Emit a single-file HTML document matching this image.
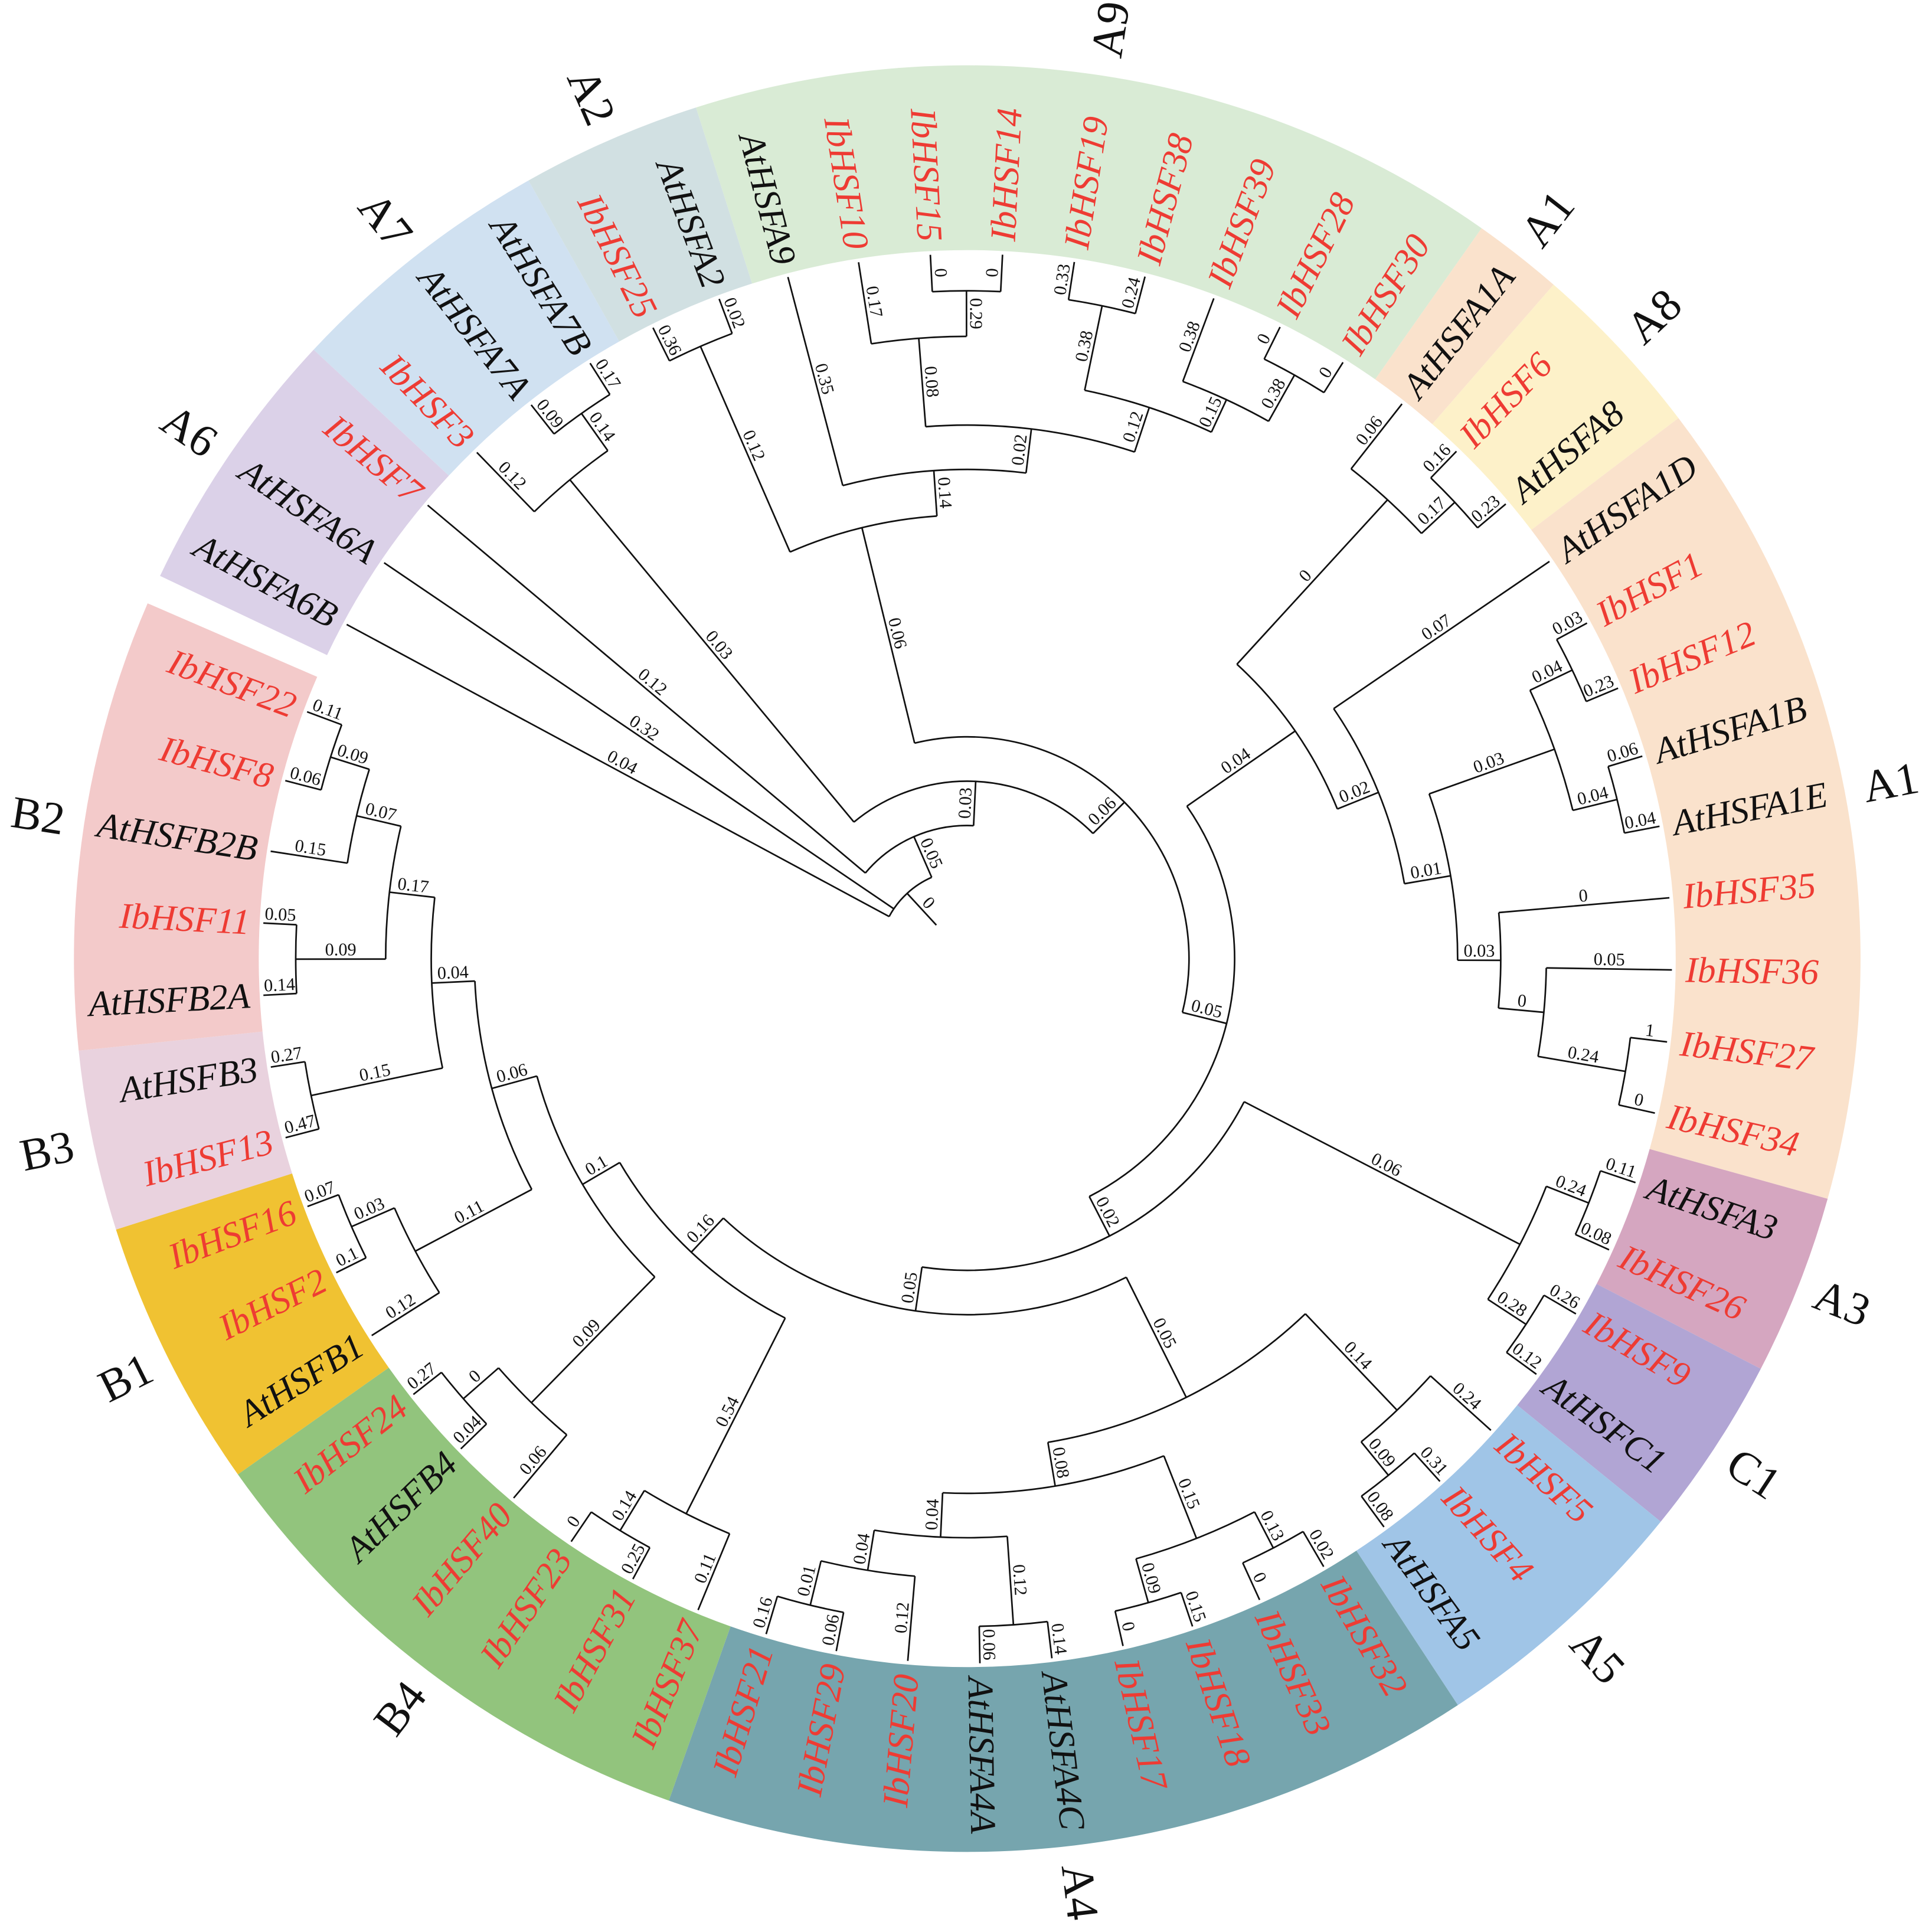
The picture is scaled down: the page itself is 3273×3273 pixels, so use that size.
<!DOCTYPE html>
<html><head><meta charset="utf-8"><title>HSF circular phylogenetic tree</title>
<style>
html,body{margin:0;padding:0;background:#fff;}
svg{display:block;}
.leaf{font-family:"Liberation Serif","DejaVu Serif","Times New Roman",serif;font-style:italic;font-size:29.5px;}
.bl{font-family:"Liberation Serif","DejaVu Serif",serif;font-size:14.5px;fill:#111;}
.clade{font-family:"Liberation Serif","DejaVu Serif",serif;font-size:37px;fill:#111;}
</style></head>
<body>
<svg id="chart" xmlns="http://www.w3.org/2000/svg" width="3273" height="3273" viewBox="0 0 1568 1568">
<rect width="1568" height="1568" fill="#fff"/>
<g id="bands"></g>
<g id="tree" fill="none" stroke="#111" stroke-width="1.3"></g>
<g id="blabels"></g>
<g id="leaves"></g>
<g id="clades"></g>
</svg>
<script>
const leafNames = ["AtHSFA6B","AtHSFA6A","IbHSF7","IbHSF3","AtHSFA7A","AtHSFA7B","IbHSF25","AtHSFA2","AtHSFA9","IbHSF10","IbHSF15","IbHSF14","IbHSF19","IbHSF38","IbHSF39","IbHSF28","IbHSF30","AtHSFA1A","IbHSF6","AtHSFA8","AtHSFA1D","IbHSF1","IbHSF12","AtHSFA1B","AtHSFA1E","IbHSF35","IbHSF36","IbHSF27","IbHSF34","AtHSFA3","IbHSF26","IbHSF9","AtHSFC1","IbHSF5","IbHSF4","AtHSFA5","IbHSF32","IbHSF33","IbHSF18","IbHSF17","AtHSFA4C","AtHSFA4A","IbHSF20","IbHSF29","IbHSF21","IbHSF37","IbHSF31","IbHSF23","IbHSF40","AtHSFB4","IbHSF24","AtHSFB1","IbHSF2","IbHSF16","IbHSF13","AtHSFB3","AtHSFB2A","IbHSF11","AtHSFB2B","IbHSF8","IbHSF22"];
const leafParents = ["N0","N0","N1","A7","A7ab","A7ab","A2n","A2n","G2","G4","G4b","G4b","G5a","G5a","G5b","G5c","G5c","CaA","A8n","A8n","Cb","Cd1","Cd1","Cd2","Cd2","Ce","Cf","Cg","Cg","K2","K2","K3","K3","H2","H3","H3","H11","H11","H10","H10","H8","H8","H7","H9","H9","Bz","Bz1","Bz1","Bc","Bc1","Bc1","Be","Be1","Be1","Bg","Bg","Bi","Bi","Bh","Bj","Bj"];
const leafBranch = ["0.04","0.32","0.12","0.12","0.09","0.17","0.36","0.02","0.35","0.17","0","0","0.33","0.24","0.38","0","0","0.06","0.16","0.23","0.07","0.03","0.23","0.06","0.04","0","0.05","1","0","0.11","0.08","0.26","0.12","0.24","0.31","0.08","0.02","0","0.15","0","0.14","0.06","0.12","0.06","0.16","0.11","0.25","0","0.06","0.04","0.27","0.12","0.1","0.07","0.47","0.27","0.14","0.05","0.15","0.06","0.11"];
const nodeNames = ["N0","N1","N2","A7","A7ab","N3","G1","A2n","G2","G3","G4","G4b","G5","G5a","G5b","G5c","N4","Ca","CaA","A8n","Cb","Cc","Cd","Cd1","Cd2","Ce","Cf","Cg","N5","K1","K2","K3","N6","H1","H2","H3","H4","H5","H7","H9","H8","H6","H10","H11","B0","Bz","Bz1","Ba","Bc","Bc1","Bb","Be","Be1","Bd","Bg","Bf","Bi","Bh","Bj"];
const nodeParents = [null,"N0","N1","N2","A7","N2","N3","G1","G1","G2","G3","G4","G3","G5","G5","G5b","N3","N4","Ca","CaA","Ca","Cb","Cc","Cd","Cd","Cc","Ce","Cf","N4","N5","K1","K1","N5","N6","H1","H2","H1","H4","H5","H7","H5","H4","H6","H6","N6","B0","Bz","B0","Ba","Bc","Ba","Bb","Be","Bb","Bd","Bd","Bf","Bf","Bh"];
const nodeRadii = [72,108,144,505,542,180,360,542,397,433,505,542,471,541,500,543,217,324,505,542,360,398,506,544,543,433,470,542,253,505,542,542,289,398,506,541,434,470,503,540,542,506,543,539,327,505,543,362,505,543,400,507,545,435,544,472,545,509,542];
const nodeBranch = ["0","0.05","0.03","0.03","0.14","0.06","0.06","0.12","0.14","0.02","0.08","0.29","0.12","0.38","0.15","0.38","0.05","0.04","0","0.17","0.02","0.01","0.03","0.04","0.04","0.03","0","0.24","0.02","0.06","0.24","0.28","0.05","0.05","0.14","0.09","0.08","0.04","0.04","0.01","0.12","0.15","0.09","0.13","0.16","0.54","0.14","0.1","0.09","0","0.06","0.11","0.03","0.04","0.15","0.17","0.09","0.07","0.09"];
const cladeNames = ["A6","A7","A2","A9","A1","A8","A1","A3","C1","A5","A4","B4","B1","B3","B2"];
const cladeFirst = [0,3,6,8,17,18,20,29,31,33,36,45,51,54,56];
const cladeLast = [2,5,7,16,17,19,28,30,32,35,44,50,53,55,60];
const cladeColors = ["#dbd1e8","#d0e1f1","#d1e0e2","#d9ebd5","#fae2cc","#fdf1c9","#fae2cc","#d5a6c0","#b1a5d4","#a0c5e7","#76a5ae","#92c47d","#f0c232","#e9d2de","#f3caca"];

const cx = 785, cy = 778;
const startAngle = -61.7, step = 5.87;
const tipR = 572, labelR = 583, bandIn = 575, bandOut = 725, cladeR = 763;
const NS = "http://www.w3.org/2000/svg";
const SERIF = '"Liberation Serif","DejaVu Serif","Times New Roman",serif';

function pt(r, a) { const t = a * Math.PI / 180; return [cx + r * Math.sin(t), cy - r * Math.cos(t)]; }
function leafAngle(i) { return startAngle + i * step; }
function rotFor(a) { let n = ((a % 360) + 360) % 360; return (n > 0 && n < 180) ? { rot: a - 90, right: true } : { rot: a + 90, right: false }; }
function arcD(r, a1, a2) {
  const p1 = pt(r, a1), p2 = pt(r, a2);
  return "M" + p1[0] + " " + p1[1] + " A" + r + " " + r + " 0 " + (a2 - a1 > 180 ? 1 : 0) + " 1 " + p2[0] + " " + p2[1];
}

const kids = {};
nodeNames.forEach(n => kids[n] = []);
leafParents.forEach((p, i) => kids[p].push({ leaf: true, i: i }));
nodeParents.forEach((p, j) => { if (p) kids[p].push({ leaf: false, i: j }); });
const nodeAngle = {}, nodeSpan = {};
function angleOf(c) { return c.leaf ? leafAngle(c.i) : computeAngle(nodeNames[c.i]); }
function computeAngle(n) {
  if (nodeAngle[n] !== undefined) return nodeAngle[n];
  const as = kids[n].map(angleOf);
  const lo = Math.min.apply(null, as), hi = Math.max.apply(null, as);
  nodeSpan[n] = [lo, hi];
  nodeAngle[n] = (lo + hi) / 2;
  return nodeAngle[n];
}
nodeNames.forEach(computeAngle);
const radiusOf = {};
nodeNames.forEach((n, j) => radiusOf[n] = nodeRadii[j]);

const bands = document.getElementById("bands");
const tree = document.getElementById("tree");
const bl = document.getElementById("blabels");
const leaves = document.getElementById("leaves");
const clades = document.getElementById("clades");

cladeNames.forEach((c, k) => {
  const a1 = leafAngle(cladeFirst[k]) - step / 2, a2 = leafAngle(cladeLast[k]) + step / 2;
  const o1 = pt(bandOut, a1), o2 = pt(bandOut, a2), i2 = pt(bandIn, a2), i1 = pt(bandIn, a1);
  const p = document.createElementNS(NS, "path");
  p.setAttribute("d", "M" + o1 + " A" + bandOut + " " + bandOut + " 0 0 1 " + o2 + " L" + i2 + " A" + bandIn + " " + bandIn + " 0 0 0 " + i1 + " Z");
  p.setAttribute("fill", cladeColors[k]);
  
  
  bands.appendChild(p);
  const am = (a1 + a2) / 2, q = pt(cladeR, am), ro = rotFor(am);
  const t = document.createElementNS(NS, "text");
  t.setAttribute("class", "clade");
  t.setAttribute("font-family", SERIF);
  t.setAttribute("text-anchor", "middle");
  t.setAttribute("dominant-baseline", "central");
  t.setAttribute("transform", "translate(" + q[0] + "," + q[1] + ") rotate(" + ro.rot + ")");
  t.textContent = c;
  
  
  clades.appendChild(t);
});

function line(r0, r1, a, name) {
  const p0 = pt(r0, a), p1 = pt(r1, a);
  const l = document.createElementNS(NS, "line");
  l.setAttribute("x1", p0[0]); l.setAttribute("y1", p0[1]);
  l.setAttribute("x2", p1[0]); l.setAttribute("y2", p1[1]);
  
  
  tree.appendChild(l);
}
function blabel(r0, r1, a, txt, name) {
  const q = pt((r0 + r1) / 2, a), ro = rotFor(a);
  const t = document.createElementNS(NS, "text");
  t.setAttribute("class", "bl");
  t.setAttribute("font-family", SERIF);
  t.setAttribute("text-anchor", "middle");
  t.setAttribute("transform", "translate(" + q[0] + "," + q[1] + ") rotate(" + ro.rot + ") translate(0,-3)");
  t.textContent = txt;
  
  
  bl.appendChild(t);
}

nodeNames.forEach((n, j) => {
  const r = nodeRadii[j], sp = nodeSpan[n], a = nodeAngle[n];
  const arc = document.createElementNS(NS, "path");
  arc.setAttribute("d", arcD(r, sp[0], sp[1]));
  
  
  tree.appendChild(arc);
  const pr = nodeParents[j] ? radiusOf[nodeParents[j]] : 37;
  line(pr, r, a, 'branch-' + n.toLowerCase());
  blabel(pr, r, a, nodeBranch[j], 'branch-length-' + n.toLowerCase());
});

leafNames.forEach((nm, i) => {
  const a = leafAngle(i), pr = radiusOf[leafParents[i]];
  line(pr, tipR, a, 'branch-' + nm.toLowerCase());
  blabel(pr, tipR, a, leafBranch[i], 'branch-length-' + nm.toLowerCase());
  const q = pt(labelR, a), ro = rotFor(a);
  const t = document.createElementNS(NS, "text");
  t.setAttribute("class", "leaf");
  t.setAttribute("font-family", SERIF);
  t.setAttribute("font-style", "italic");
  t.setAttribute("fill", nm.indexOf("Ib") === 0 ? "#ee3b33" : "#111");
  t.setAttribute("text-anchor", ro.right ? "start" : "end");
  t.setAttribute("dominant-baseline", "central");
  t.setAttribute("transform", "translate(" + q[0] + "," + q[1] + ") rotate(" + ro.rot + ")");
  t.textContent = nm;
  
  
  leaves.appendChild(t);
});
</script>
</body></html>
